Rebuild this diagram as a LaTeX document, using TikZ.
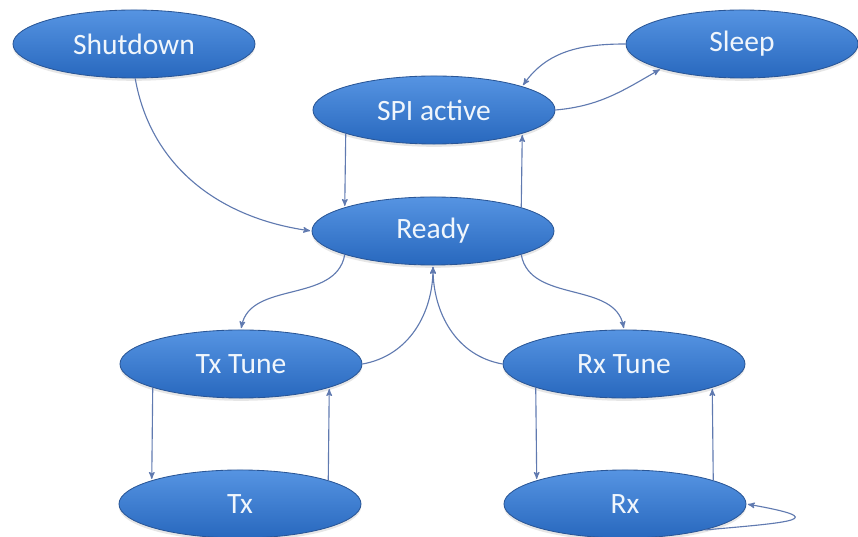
\documentclass[tikz,border=0pt]{standalone}
\usepackage{fontspec}
\newfontfamily\calib{Carlito}
\usetikzlibrary{arrows}
\usetikzlibrary{shapes.geometric}
\usetikzlibrary{shadows}
\definecolor{stateTop}{RGB}{86,148,226}
\definecolor{stateBot}{RGB}{40,104,190}
\definecolor{stateRim}{RGB}{42,86,150}
\definecolor{linkBlue}{RGB}{96,122,176}
\definecolor{labelWhite}{RGB}{240,246,252}

\begin{document}
\begin{tikzpicture}[x=0.025cm,y=0.025cm,>=stealth',shorten >=1pt,
    state node/.style={ellipse,draw=stateRim,line width=0.6pt,top color=stateTop,bottom color=stateBot,
      minimum width=6.05cm,minimum height=1.7cm,inner sep=0pt,text=labelWhite,
      font=\calib\fontsize{21}{25}\selectfont,
      drop shadow={opacity=0.2,shadow xshift=0pt,shadow yshift=-2pt}},
    link/.style={->,color=linkBlue,line width=0.8pt}]
   \useasboundingbox (0,0) rectangle (858,-537);
   \begin{scope}
      \node[state node] (shutdown) at (134,-44) {Shutdown};
      \node[state node,minimum width=5.8cm] (sleep) at (742,-44) {Sleep};
      \node[state node] (spi) at (434,-110) {SPI active};
      \node[state node] (ready) at (433,-231) {Ready};
      \node[state node] (txtune) at (241,-364) {Tx Tune};
      \node[state node] (rxtune) at (624,-364) {Rx Tune};
      \node[state node] (tx) at (240,-504) {Tx};
      \node[state node] (rx) at (625,-504) {Rx};

      \path[link] (shutdown.-88) edge[out=-80,in=172] (ready.west);
      \path[link] (spi.195) edge (ready.165);
      \path[link] (ready.15) edge (spi.-15);
      \path[link] (sleep.west) edge[out=180,in=55] (spi.15);
      \path[link] (spi.east) edge[out=5,in=210] (sleep.197);

      \path[link] (ready.195) edge[out=-100,in=80] (txtune.north);
      \path[link] (txtune.east) edge[out=10,in=-90] (ready.south);
      \path[link] (rxtune.west) edge[out=170,in=-90] (ready.south);
      \path[link] (ready.-15) edge[out=-80,in=100] (rxtune.north);

      \path[link] (txtune.195) edge (tx.165);
      \path[link] (tx.15) edge (txtune.-15);
      \path[link] (rxtune.195) edge (rx.165);
      \path[link] (rx.15) edge (rxtune.-15);
      \path[link] (rx.-18) edge[out=5,in=-10,looseness=4.6] (rx.east);
   \end{scope}
\end{tikzpicture}
\end{document}
